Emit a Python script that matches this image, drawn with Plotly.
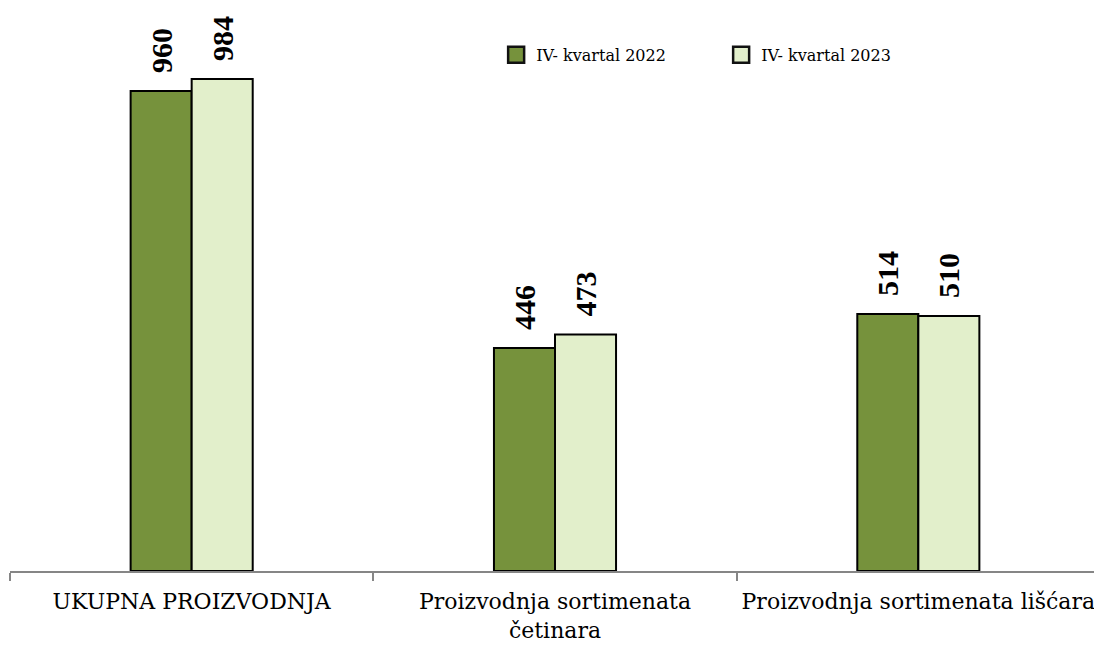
import plotly.graph_objects as go

categories = ["UKUPNA PROIZVODNJA", "Proizvodnja sortimenata<br>četinara", "Proizvodnja sortimenata lišćara"]
series_names = ["IV- kvartal 2022", "IV- kvartal 2023"]
values_2022 = [960, 446, 514]
values_2023 = [984, 473, 510]

fill_colors = ["#76923C", "#E2EFCB"]
label_font = "Liberation Serif"
text_font = "DejaVu Serif"

fig = go.Figure()
for name, vals, col in zip(series_names, [values_2022, values_2023], fill_colors):
    fig.add_trace(go.Bar(
        x=categories, y=vals, name=name, showlegend=False,
        marker=dict(color=col, line=dict(color="#000000", width=2)),
        text=["\u00a0\u00a0" + str(v) for v in vals], textposition="outside", textangle=-90,
        textfont=dict(family=label_font, size=30, color="#000000", weight="bold"),
        cliponaxis=False,
    ))
# legend entries with larger square swatches
for name, col in zip(series_names, fill_colors):
    fig.add_trace(go.Scatter(
        x=[None], y=[None], mode="markers", name=name,
        marker=dict(symbol="square", size=19, color=col, line=dict(color="#111111", width=2.5)),
    ))

fig.update_layout(
    width=1094, height=638,
    margin=dict(l=2, r=2, t=2, b=75),
    paper_bgcolor="white", plot_bgcolor="white",
    barmode="group", bargap=0.664, bargroupgap=0.0,
    showlegend=True,
    legend=dict(orientation="h", x=0.446, y=0.92, xanchor="left", yanchor="middle",
                font=dict(family=text_font, size=16, color="#000000"),
                bgcolor="rgba(0,0,0,0)", traceorder="normal",
                entrywidth=180),
    xaxis=dict(showline=True, linecolor="#868686", linewidth=1.5,
               ticks="outside", ticklen=8, tickcolor="#868686", tickwidth=1.5,
               tickson="boundaries", showgrid=False, automargin=False,
               ticklabelstandoff=10,
               tickfont=dict(family=text_font, size=22, color="#000000")),
    yaxis=dict(range=[0, 1122], visible=False, showgrid=False, automargin=False),
)
fig.write_html("out.html")
